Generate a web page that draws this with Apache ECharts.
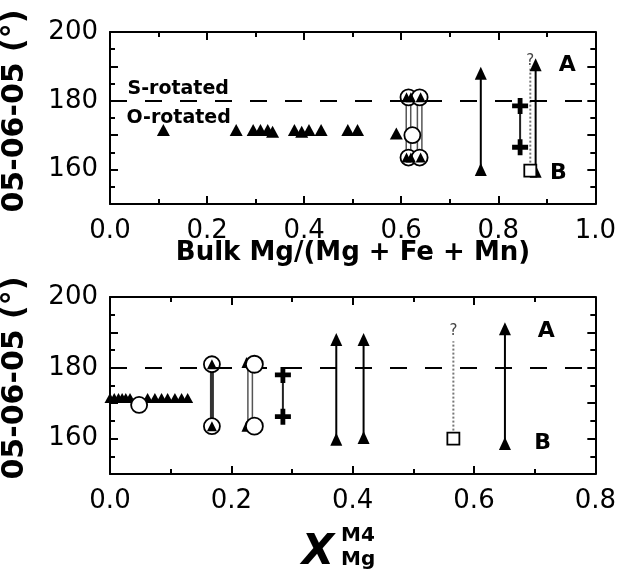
<!DOCTYPE html>
<html><head><meta charset="utf-8">
<script src="https://cdn.jsdelivr.net/npm/echarts@6/dist/echarts.min.js"></script>
<style>html,body{margin:0;padding:0;background:#fff}#c{width:619px;height:581px}</style>
</head><body><div id="c"></div>
<script>
// ---------- data: top panel (x = bulk Mg/(Mg+Fe+Mn)) ----------
const yTickLabels = [160, 180, 200];
const topTriX = [0.11, 0.26, 0.295, 0.31, 0.325, 0.335, 0.38, 0.395, 0.41, 0.435, 0.49, 0.51, 0.59];
const topTriY = [171.5, 171.5, 171.5, 171.5, 171.5, 171, 171.5, 171, 171.5, 171.5, 171.5, 171.5, 170.5];
const topRingX = [0.615, 0.638];
const topRingHi = [181, 181];
const topRingLo = [163.5, 163.5];
const topRingTriX = [0.611, 0.62, 0.64];
const topMidCircle = [0.623, 170];
const topArrowX = [0.764, 0.877];
const topArrowLo = [160, 159.5];
const topArrowHi = [188, 190.5];
const topCrossX = [0.845, 0.845];
const topCrossY = [178.5, 166.5];
const topSquare = [0.866, 159.7];
const topSquareTop = 190;
// ---------- data: bottom panel (x = X_Mg^M4) ----------
const botTriX = [0.0, 0.007, 0.014, 0.02, 0.026, 0.033, 0.062, 0.074, 0.085, 0.095, 0.107, 0.118, 0.128];
const botTriY = [171.5, 171.5, 171.5, 171.5, 171.5, 171.5, 171.5, 171.5, 171.5, 171.5, 171.5, 171.5, 171.5];
const botCircle = [0.048, 169.5];
const botDarkX = 0.168, botDarkHi = 181, botDarkLo = 163.5;
const botRingX = 0.238, botRingHi = 181, botRingLo = 163.5;
const botRingTriX = 0.225, botRingTriHi = 181.5, botRingTriLo = 163.5;
const botBarX = 0.231;
const botCrossX = [0.285, 0.285];
const botCrossY = [178, 166.2];
const botArrowX = [0.373, 0.418, 0.651];
const botArrowLo = [159.8, 160.3, 158.6];
const botArrowHi = [188, 188, 191];
const botSquare = [0.566, 160];
const botSquareTop = 187.5;
const refLine = 180;

const F = 'DejaVu Sans';
const plus = 'path://M3.5,0L6.5,0L6.5,3.5L10,3.5L10,6.5L6.5,6.5L6.5,10L3.5,10L3.5,6.5L0,6.5L0,3.5L3.5,3.5Z';

function xAx(grid, max, pos) {
  return {
    type: 'value', gridIndex: grid, min: 0, max: max, interval: 0.2, position: pos,
    axisLine: {show: true, onZero: false, lineStyle: {color: '#000', width: 2}},
    axisTick: {show: true, inside: true, length: 8, lineStyle: {color: '#000', width: 2}},
    minorTick: {show: true, splitNumber: 2, length: 5, lineStyle: {color: '#000', width: 2}},
    splitLine: {show: false},
    axisLabel: {show: pos === 'bottom', margin: 14, fontFamily: F, fontSize: 26, color: '#000',
      formatter: v => v.toFixed(1)}
  };
}
function yAx(grid, pos) {
  return {
    type: 'value', gridIndex: grid, min: 150, max: 200, interval: 10, position: pos,
    axisLine: {show: true, onZero: false, lineStyle: {color: '#000', width: 2}},
    axisTick: {show: true, inside: true, length: 8, lineStyle: {color: '#000', width: 2}},
    minorTick: {show: true, splitNumber: 2, length: 5, lineStyle: {color: '#000', width: 2}},
    splitLine: {show: false},
    axisLabel: {show: pos === 'left', margin: 12, fontFamily: F, fontSize: 26, color: '#000',
      formatter: v => yTickLabels.indexOf(v) >= 0 ? String(v) : ''}
  };
}
function pts(xs, ys) { return xs.map((x, i) => [x, ys[i]]); }
function scat(g, data, symbol, size, fill, border, z) {
  return {type: 'scatter', xAxisIndex: g * 2, yAxisIndex: g * 2, data: data, symbol: symbol,
    symbolSize: size, clip: false, z: z || 5,
    itemStyle: {color: fill, borderColor: border || fill, borderWidth: border ? 1.8 : 0, opacity: 1}};
}
function seg(g, x, y0, y1, color, width, type, z) {
  return {type: 'line', xAxisIndex: g * 2, yAxisIndex: g * 2, data: [[x, y0], [x, y1]],
    showSymbol: false, symbol: 'none', z: z || 3, silent: true,
    lineStyle: {color: color, width: width, type: type || 'solid'}};
}
function dbl(g, x, y0, y1) {
  return [seg(g, x, y0, y1, '#555', 6, 'solid', 2), seg(g, x, y0, y1, '#fff', 3, 'solid', 2.5)];
}
function arrow(g, x, lo, hi) {
  return {type: 'line', xAxisIndex: g * 2, yAxisIndex: g * 2, data: [[x, lo], [x, hi]],
    symbol: 'triangle', symbolSize: [12, 13], showSymbol: true, z: 4, clip: false,
    lineStyle: {color: '#000', width: 2}, itemStyle: {color: '#000'}};
}
function label(g, x, y, text, size, weight, align, color) {
  return {type: 'scatter', xAxisIndex: g * 2, yAxisIndex: g * 2, data: [[x, y]], symbolSize: 0,
    silent: true, z: 10, itemStyle: {opacity: 1, color: '#000'},
    label: {show: true, position: 'inside', formatter: text, fontFamily: F, fontSize: size,
      fontWeight: weight, color: color || '#000', opacity: 1, align: align || 'center', verticalAlign: 'middle'}};
}
function dashLine(g) {
  return {type: 'line', xAxisIndex: g * 2, yAxisIndex: g * 2, data: [], silent: true,
    markLine: {silent: true, symbol: 'none', label: {show: false},
      lineStyle: {color: '#000', width: 2, type: [17, 18], opacity: 1}, data: [{yAxis: refLine}]}};
}

const series = [];
// top panel
series.push(dashLine(0));
series.push(scat(0, pts(topTriX, topTriY), 'triangle', [13, 12], '#000'));
topRingX.forEach((x, i) => series.push(...dbl(0, x, topRingLo[i], topRingHi[i])));
series.push(scat(0, pts(topRingX, topRingHi).concat(pts(topRingX, topRingLo)), 'circle', 16, '#fff', '#000', 4));
series.push(scat(0, pts(topRingTriX, topRingTriX.map(() => topRingHi[0])).concat(
  pts(topRingTriX, topRingTriX.map(() => topRingLo[0]))), 'triangle', [10, 10], '#000', null, 6));
series.push(scat(0, [topMidCircle], 'circle', 16, '#fff', '#000', 6));
series.push(seg(0, topSquare[0], topSquare[1], topSquareTop, '#777', 2, 'dotted'));
topArrowX.forEach((x, i) => series.push(arrow(0, x, topArrowLo[i], topArrowHi[i])));
series.push(seg(0, topCrossX[0], topCrossY[0], topCrossY[1], '#222', 2));
series.push(scat(0, pts(topCrossX, topCrossY), plus, 16, '#000'));
series.push(scat(0, [topSquare], 'rect', 12, '#fff', '#000', 6));
series.push(label(0, topSquare[0], 191.5, '?', 15, 'normal', 'center', '#444'));
series.push(label(0, 0.942, 190.3, 'A', 22, 'bold'));
series.push(label(0, 0.924, 158.9, 'B', 22, 'bold'));
series.push(label(0, 0.036, 183.5, 'S-rotated', 19, 'bold', 'left'));
series.push(label(0, 0.034, 175.0, 'O-rotated', 19, 'bold', 'left'));
// bottom panel
series.push(dashLine(1));
series.push(scat(1, pts(botTriX, botTriY), 'triangle', [11, 10], '#000'));
series.push(scat(1, [botCircle], 'circle', 16, '#fff', '#000', 6));
series.push(seg(1, botDarkX, botDarkLo, botDarkHi, '#333', 4));
series.push(scat(1, [[botDarkX, botDarkHi], [botDarkX, botDarkLo]], 'circle', 16, '#fff', '#000', 4));
series.push(scat(1, [[botDarkX, botDarkHi], [botDarkX, botDarkLo]], 'triangle', [10, 10], '#000', null, 6));
series.push(...dbl(1, botBarX, botRingLo, botRingHi));
series.push(scat(1, [[botRingTriX, botRingTriHi], [botRingTriX, botRingTriLo]], 'triangle', [10, 11], '#000', null, 6));
series.push(scat(1, [[botRingX, botRingHi], [botRingX, botRingLo]], 'circle', 17, '#fff', '#000', 6));
series.push(seg(1, botCrossX[0], botCrossY[0], botCrossY[1], '#222', 2));
series.push(scat(1, pts(botCrossX, botCrossY), plus, 16, '#000'));
botArrowX.forEach((x, i) => series.push(arrow(1, x, botArrowLo[i], botArrowHi[i])));
series.push(seg(1, botSquare[0], botSquare[1], botSquareTop, '#777', 2, 'dotted'));
series.push(scat(1, [botSquare], 'rect', 12, '#fff', '#000', 6));
series.push(label(1, botSquare[0], 190.5, '?', 15, 'normal', 'center', '#444'));
series.push(label(1, 0.719, 190.4, 'A', 22, 'bold'));
series.push(label(1, 0.713, 158.6, 'B', 22, 'bold'));

const chart = echarts.init(document.getElementById('c'), null, {renderer: 'canvas'});
chart.setOption({
  animation: false,
  backgroundColor: '#fff',
  grid: [
    {left: 110, top: 32, width: 487, height: 172, show: false},
    {left: 110, top: 297, width: 487, height: 177, show: false}
  ],
  xAxis: [xAx(0, 1.0, 'bottom'), xAx(0, 1.0, 'top'), xAx(1, 0.8, 'bottom'), xAx(1, 0.8, 'top')],
  yAxis: [yAx(0, 'left'), yAx(0, 'right'), yAx(1, 'left'), yAx(1, 'right')],
  series: series,
  graphic: [
    {type: 'text', x: 15, y: 111, rotation: Math.PI / 2,
      style: {text: '05-06-05 (°)', fontFamily: F, fontSize: 30, fontWeight: 'bold', fill: '#000', align: 'center', verticalAlign: 'middle'}},
    {type: 'text', x: 15, y: 378, rotation: Math.PI / 2,
      style: {text: '05-06-05 (°)', fontFamily: F, fontSize: 30, fontWeight: 'bold', fill: '#000', align: 'center', verticalAlign: 'middle'}},
    {type: 'text', x: 353, y: 253,
      style: {text: 'Bulk Mg/(Mg + Fe + Mn)', fontFamily: F, fontSize: 26, fontWeight: 'bold', fill: '#000', align: 'center', verticalAlign: 'middle'}},
    {type: 'text', x: 318, y: 553,
      style: {text: 'X', fontFamily: F, fontSize: 42, fontWeight: 'bold', fontStyle: 'italic', fill: '#000', align: 'center', verticalAlign: 'middle'}},
    {type: 'text', x: 341, y: 536,
      style: {text: 'M4', fontFamily: F, fontSize: 20, fontWeight: 'bold', fill: '#000', align: 'left', verticalAlign: 'middle'}},
    {type: 'text', x: 341, y: 560,
      style: {text: 'Mg', fontFamily: F, fontSize: 20, fontWeight: 'bold', fill: '#000', align: 'left', verticalAlign: 'middle'}}
  ]
});
</script></body></html>
